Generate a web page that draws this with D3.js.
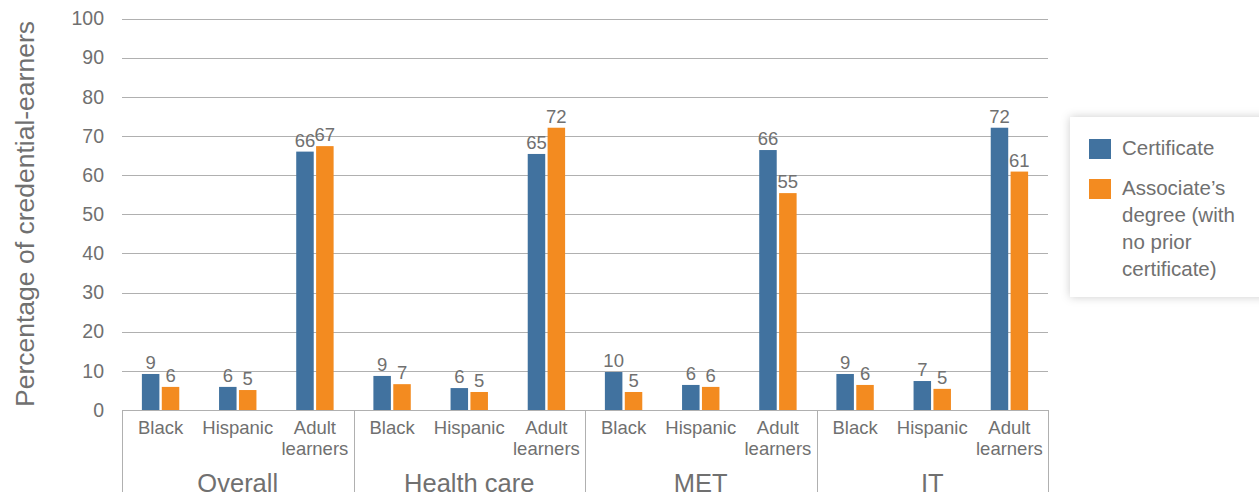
<!DOCTYPE html>
<html><head><meta charset="utf-8">
<script src="https://cdn.jsdelivr.net/npm/d3@7"></script>
<style>
body{margin:0;background:#fff;}
text{font-family:"Liberation Sans",Arial,sans-serif;fill:#707070;}
</style></head><body>
<svg id="c" width="1259" height="496"></svg>
<script>
const groups = ["Overall","Health care","MET","IT"];
const subgroups = ["Black","Hispanic","Adult learners"];
const seriesNames = ["Certificate","Associate’s degree (with no prior certificate)"];
const certificate = [9.2,5.9,66.0, 8.7,5.6,65.4, 9.7,6.4,66.4, 9.2,7.4,72.1];
const associate   = [5.9,5.1,67.4, 6.6,4.6,72.1, 4.6,5.9,55.4, 6.4,5.4,60.9];
const yTicks = [0,10,20,30,40,50,60,70,80,90,100];
const colors = ["#41729f","#f38b20"];

const svg = d3.select("#c");
const L=122, R=1048, T=18.5, B=410;
const y = d3.scaleLinear().domain([0,100]).range([B,T]);
const cats = [];
groups.forEach(g=>subgroups.forEach(s=>cats.push(g+"|"+s)));
const x = d3.scaleBand().domain(cats).range([L,R]).paddingInner(0).paddingOuter(0);
const xs = d3.scaleBand().domain([0,1]).range([0,x.bandwidth()]).paddingInner(0.12).paddingOuter(1.0);
const gx = d3.scaleBand().domain(groups).range([L,R]);

// gridlines
svg.append("g").selectAll("line").data(yTicks).join("line")
  .attr("x1",L).attr("x2",R).attr("y1",d=>Math.round(y(d))+0.5).attr("y2",d=>Math.round(y(d))+0.5)
  .attr("stroke","#b0b0b0").attr("stroke-width",1);

// y axis labels
const ya = svg.append("g").attr("transform",`translate(104,0)`)
  .call(d3.axisLeft(y).tickValues(yTicks).tickSize(0).tickPadding(0));
ya.select(".domain").remove();
ya.selectAll("text").style("font-size","19.5px").attr("fill","#707070").attr("font-family","Liberation Sans, Arial, sans-serif");

// y title
svg.append("text").attr("transform","translate(34,214) rotate(-90)").attr("text-anchor","middle")
  .style("font-size","26.5px").text("Percentage of credential-earners");

// bars
const series=[certificate,associate];
series.forEach((vals,si)=>{
  svg.append("g").selectAll("rect").data(vals).join("rect")
    .attr("x",(d,i)=>x(cats[i])+xs(si)).attr("width",xs.bandwidth())
    .attr("y",d=>y(d)).attr("height",d=>y(0)-y(d)).attr("fill",colors[si]);
  svg.append("g").selectAll("text").data(vals).join("text")
    .attr("x",(d,i)=>x(cats[i])+xs(si)+xs.bandwidth()/2).attr("y",d=>y(d)-5)
    .attr("text-anchor","middle").style("font-size","18.5px").text(d=>Math.round(d));
});

// category axis
const ax = svg.append("g");
ax.append("line").attr("x1",L).attr("x2",R).attr("y1",B+0.5).attr("y2",B+0.5).attr("stroke","#b0b0b0");
groups.concat(["_end"]).forEach((g,i)=>{
  const xx = i<groups.length? gx(g) : R;
  ax.append("line").attr("x1",Math.round(xx)+0.5).attr("x2",Math.round(xx)+0.5).attr("y1",B).attr("y2",492).attr("stroke","#b0b0b0");
});
cats.forEach(c=>{
  const s=c.split("|")[1];
  const cx=x(c)+x.bandwidth()/2;
  const t=ax.append("text").attr("x",cx).attr("text-anchor","middle").style("font-size","18.5px");
  if(s==="Adult learners"){
    t.append("tspan").attr("x",cx).attr("y",434).text("Adult");
    t.append("tspan").attr("x",cx).attr("y",455).text("learners");
  } else t.attr("y",434).text(s);
});
groups.forEach(g=>{
  ax.append("text").attr("x",gx(g)+gx.bandwidth()/2).attr("y",492).attr("text-anchor","middle")
    .style("font-size","25.5px").text(g);
});

// legend
const defs=svg.append("defs");
const f=defs.append("filter").attr("id","sh").attr("x","-20%").attr("y","-20%").attr("width","140%").attr("height","140%");
f.append("feDropShadow").attr("dx",0).attr("dy",0).attr("stdDeviation",5).attr("flood-color","#000").attr("flood-opacity",0.2);
const lg=svg.append("g");
lg.append("rect").attr("x",1070).attr("y",117).attr("width",200).attr("height",180).attr("fill","#fff").attr("filter","url(#sh)");
const legLines=[["Certificate"],["Associate’s","degree (with","no prior","certificate)"]];
const legY=[139,179];
legLines.forEach((lines,i)=>{
  lg.append("rect").attr("x",1089).attr("y",legY[i]).attr("width",22).attr("height",20).attr("fill",colors[i]);
  const t=lg.append("text").style("font-size","20.5px");
  lines.forEach((ln,j)=>t.append("tspan").attr("x",1122).attr("y",legY[i]+16+j*27).text(ln));
});
</script></body></html>
